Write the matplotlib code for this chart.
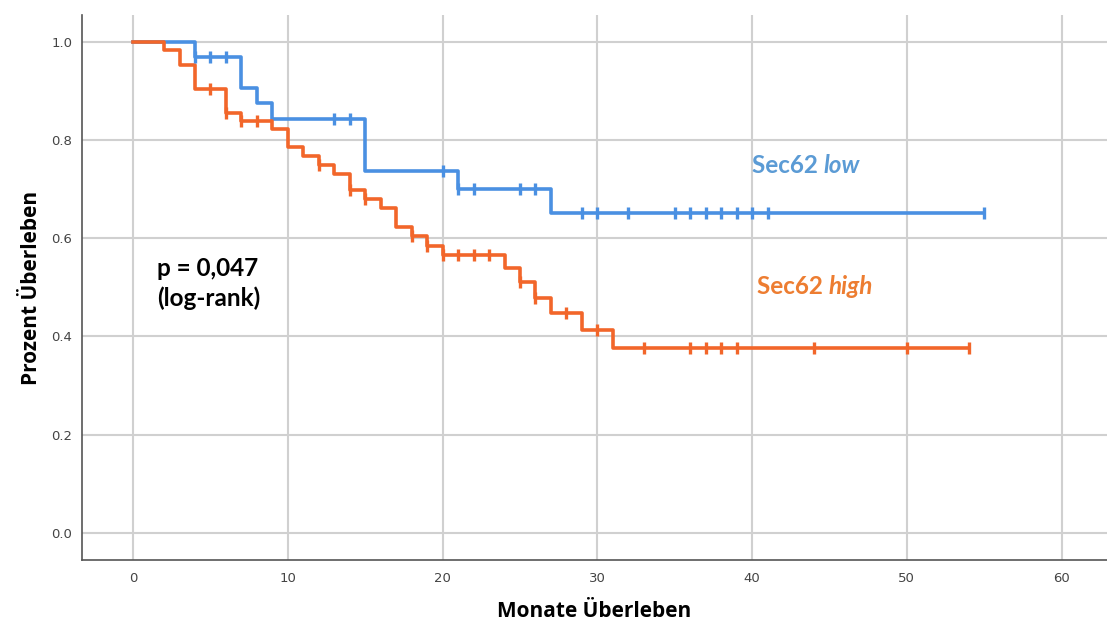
import numpy as np
import matplotlib
matplotlib.use("Agg")
import matplotlib.pyplot as plt

# Kaplan-Meier steps: event times and survival after each step
low_times = [0, 4, 7, 8, 9, 15, 21, 27]
low_surv = [1.0, 0.970, 0.906, 0.876, 0.843, 0.737, 0.700, 0.651]
low_end = 55
low_censor = [4, 5, 6, 13, 14, 20, 21, 22, 25, 26, 29, 30, 32, 35, 36, 37, 38, 39, 40, 41, 55]

high_times = [0, 2, 3, 4, 6, 7, 9, 10, 11, 12, 13, 14, 15, 16, 17, 18, 19, 20,
              24, 25, 26, 27, 29, 31]
high_surv = [1.0, 0.984, 0.953, 0.904, 0.855, 0.840, 0.822, 0.786, 0.768, 0.750,
             0.732, 0.698, 0.680, 0.662, 0.623, 0.604, 0.585, 0.566, 0.540, 0.510,
             0.479, 0.447, 0.413, 0.376]
high_end = 54
high_censor = [5, 6, 7, 8, 12, 14, 15, 18, 19, 20, 21, 22, 23, 25, 26, 28, 30, 33,
               36, 37, 38, 39, 44, 50, 54]

x_ticks = [0, 10, 20, 30, 40, 50, 60]
y_ticks = [0.0, 0.2, 0.4, 0.6, 0.8, 1.0]

BLUE = "#4a90e2"
ORANGE = "#f2662a"


def km_curve(ax, times, surv, end, censor, color):
    t = np.append(times, end)
    s = np.append(surv, surv[-1])
    ax.step(t, s, where="post", color=color, lw=2.6, zorder=3)
    idx = np.searchsorted(times, censor, side="right") - 1
    ax.plot(censor, np.asarray(surv)[idx], ls="none", marker="|", ms=8.5,
            mew=2.4, color=color, zorder=4)


fig = plt.figure(figsize=(11.07, 6.25), dpi=100)
ax = fig.add_axes([0.0741, 0.104, 0.926, 0.872])

km_curve(ax, low_times, low_surv, low_end, low_censor, BLUE)
km_curve(ax, high_times, high_surv, high_end, high_censor, ORANGE)

ax.set_xlim(-3.3, 62.94)
ax.set_ylim(-0.0556, 1.055)
ax.set_xticks(x_ticks)
ax.set_yticks(y_ticks)
ax.set_yticklabels([f"{v:.1f}" for v in y_ticks])
ax.grid(True, color="#d0d0d0", lw=1.5, zorder=0)
ax.set_axisbelow(True)
ax.tick_params(length=0, labelsize=9.5, labelcolor="#444444")
ax.tick_params(axis="x", pad=9)
ax.tick_params(axis="y", pad=7)
for side in ("top", "right"):
    ax.spines[side].set_visible(False)
for side in ("left", "bottom"):
    ax.spines[side].set_color("#555555")
    ax.spines[side].set_linewidth(1.2)

ax.set_xlabel("Monate Überleben", fontfamily="Open Sans", fontweight="bold",
              fontsize=15, labelpad=11)
ax.set_ylabel("Prozent Überleben", fontfamily="Open Sans", fontweight="bold",
              fontsize=15, labelpad=7)

# labels for the two groups, the group level in italics
txt = dict(fontfamily="Lato", fontweight="bold", fontsize=17.5, va="center")
t1 = ax.text(40.0, 0.749, "Sec62 ", color="#5b9bd5", **txt)
ax.annotate("low", xy=(1, 0.5), xycoords=t1, va="center", ha="left",
            color="#5b9bd5", fontstyle="italic", fontfamily="Lato",
            fontweight="bold", fontsize=17.5)
t2 = ax.text(40.3, 0.501, "Sec62 ", color="#ed7d31", **txt)
ax.annotate("high", xy=(1, 0.5), xycoords=t2, va="center", ha="left",
            color="#ed7d31", fontstyle="italic", fontfamily="Lato",
            fontweight="bold", fontsize=17.5)

ax.text(1.55, 0.539, "p = 0,047", color="black", **txt)
ax.text(1.55, 0.478, "(log-rank)", color="black", **txt)

fig.savefig("out.png", dpi=100)
